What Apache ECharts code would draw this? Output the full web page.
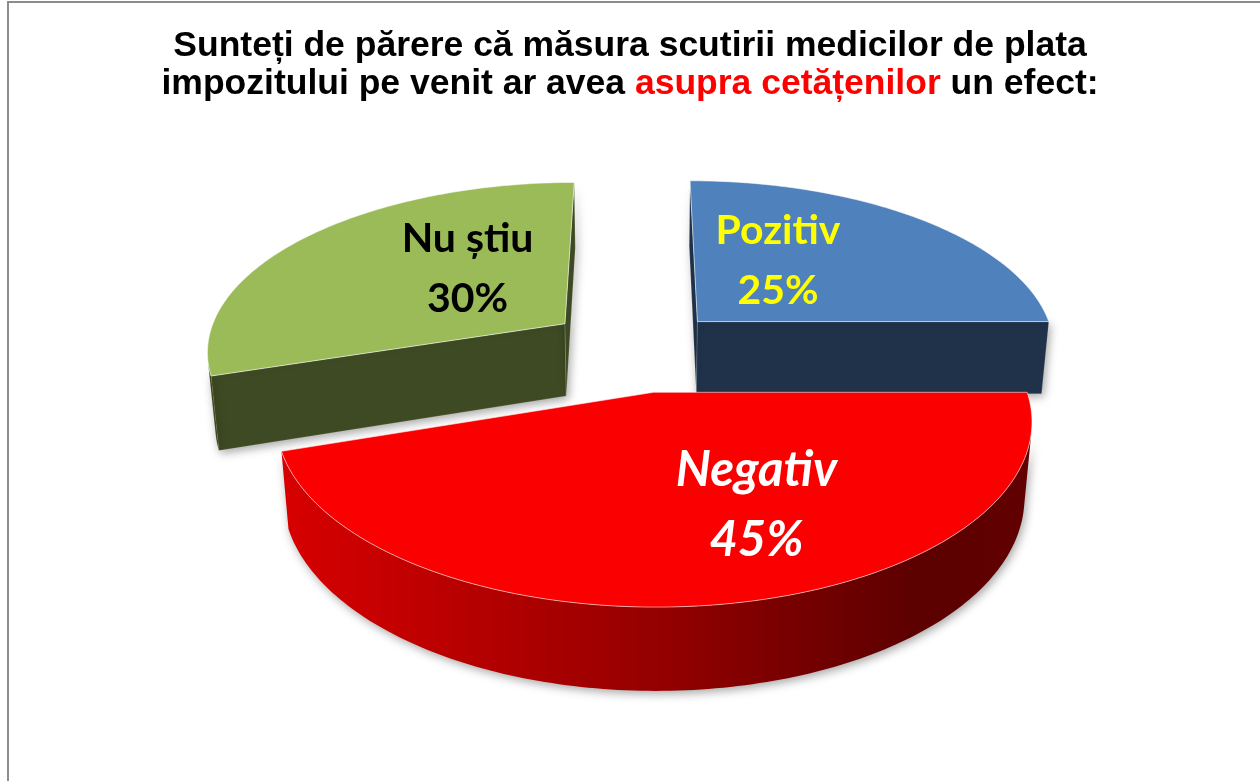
<!DOCTYPE html>
<html>
<head>
<meta charset="utf-8">
<script src="https://cdn.jsdelivr.net/npm/echarts@6/dist/echarts.min.js"></script>
<style>
  html, body { margin: 0; background: #fff; }
  #chart { width: 1260px; height: 781px; }
</style>
</head>
<body>
<div id="chart"></div>
<script>
// data
const categories = ['Pozitiv', 'Negativ', 'Nu știu']
const shares = [25, 45, 30]

// look of each slice
const topColors = ['#4f81bd', '#fa0000', '#9bbb59']
const sideColors = ['#1f3249', '#a00000', '#3e4a23']
const labelColors = ['#ffff00', '#ffffff', '#000000']
const explode = [0.235, 0.25, 0.26]
// label spot inside each slice: [fraction of its angle, fraction of radius]
const labelSpot = [[0.36, 0.47], [0.41, 0.62], [0.63, 0.47]]

// simple perspective camera for the 3d pie
const view = { cx: 639, cy: 349, k: 360, dist: 6, tilt: 28 * Math.PI / 180, height: 0.235 }
const sn = Math.sin(view.tilt)
const cs = Math.cos(view.tilt)
const cam = [0, view.dist * sn, view.dist * cs]

function project(X, Y, Z) {
  const f = view.dist / (view.dist - (Y * sn + Z * cs))
  return [view.cx + view.k * X * f, view.cy + view.k * (Z * sn - Y * cs) * f]
}

const total = shares.reduce((a, b) => a + b, 0)
let acc = 0
const slices = shares.map((v, i) => {
  const a0 = acc / total * 2 * Math.PI
  acc += v
  const a1 = acc / total * 2 * Math.PI
  const mid = (a0 + a1) / 2
  return { a0, a1, ox: explode[i] * Math.sin(mid), oz: -explode[i] * Math.cos(mid) }
})

// draw far slices first
const drawOrder = slices.map((s, i) => i).sort((a, b) => slices[a].oz - slices[b].oz)

const shadow = { shadowBlur: 10, shadowColor: 'rgba(0,0,0,0.35)', shadowOffsetX: 2, shadowOffsetY: 3 }

function renderSlice(params, api) {
  const i = api.value(0)
  const s = slices[i]
  const H = view.height
  const steps = Math.max(2, Math.ceil((s.a1 - s.a0) / (Math.PI / 180)))
  const rim = []
  for (let j = 0; j <= steps; j++) rim.push(s.a0 + (s.a1 - s.a0) * j / steps)
  const rx = a => s.ox + Math.sin(a)
  const rz = a => s.oz - Math.cos(a)
  const children = []

  // radial walls
  ;[[s.a0, -1], [s.a1, 1]].forEach(([a, sign]) => {
    const na = a + sign * Math.PI / 2
    const facing = Math.sin(na) * (cam[0] - s.ox) - Math.cos(na) * (cam[2] - s.oz)
    if (facing > 0) {
      children.push({
        type: 'polygon',
        shape: { points: [project(s.ox, 0, s.oz), project(rx(a), 0, rz(a)), project(rx(a), -H, rz(a)), project(s.ox, -H, s.oz)] },
        style: Object.assign({ fill: sideColors[i], stroke: 'rgba(255,255,255,0.25)', lineWidth: 0.6 }, shadow)
      })
    }
  })

  // outer wall, only the part turned to the camera
  const seen = rim.filter(a => {
    const n = [Math.sin(a), -Math.cos(a)]
    return n[0] * (cam[0] - rx(a)) + n[1] * (cam[2] - rz(a)) > 0
  })
  if (seen.length > 1) {
    const pts = seen.map(a => project(rx(a), 0, rz(a)))
      .concat(seen.slice().reverse().map(a => project(rx(a), -H, rz(a))))
    const fill = i === 1 ? {
      type: 'linear', x: 0, y: 0, x2: 1, y2: 0,
      colorStops: [
        { offset: 0, color: '#d80000' },
        { offset: 0.5, color: '#950000' },
        { offset: 0.85, color: '#5c0000' },
        { offset: 1, color: '#620000' }
      ]
    } : sideColors[i]
    children.push({
      type: 'polygon',
      shape: { points: pts },
      style: Object.assign({ fill: fill }, shadow)
    })
  }

  // top face
  children.push({
    type: 'polygon',
    shape: { points: [project(s.ox, 0, s.oz)].concat(rim.map(a => project(rx(a), 0, rz(a)))) },
    style: { fill: topColors[i], stroke: 'rgba(255,255,255,0.55)', lineWidth: 1 }
  })

  // label
  const la = s.a0 + (s.a1 - s.a0) * labelSpot[i][0]
  const lr = labelSpot[i][1]
  const p = project(s.ox + lr * Math.sin(la), 0, s.oz - lr * Math.cos(la))
  const big = i === 1
  children.push({
    type: 'text',
    z2: 100,
    style: {
      x: p[0], y: p[1],
      text: categories[i] + '\n' + shares[i] + '%',
      align: 'center', verticalAlign: 'middle',
      fontFamily: 'Lato', fontWeight: 'bold', fontStyle: big ? 'italic' : 'normal',
      fontSize: big ? 49 : 41, lineHeight: big ? 70 : 60,
      fill: labelColors[i]
    }
  })

  return { type: 'group', children: children }
}

const chart = echarts.init(document.getElementById('chart'))
chart.setOption({
  backgroundColor: '#fff',
  animation: false,
  title: {
    left: 'center',
    top: 22,
    text: '{k|Sunteți de părere că măsura scutirii medicilor de plata}\n{k|impozitului pe venit ar avea }{r|asupra cetățenilor}{k| un efect:}',
    textStyle: {
      rich: {
        k: { fontFamily: 'Liberation Sans', fontWeight: 'bold', fontSize: 35.5, lineHeight: 38, color: '#000' },
        r: { fontFamily: 'Liberation Sans', fontWeight: 'bold', fontSize: 35.5, lineHeight: 38, color: '#ff0000' }
      }
    }
  },
  graphic: [{
    type: 'rect',
    silent: true,
    shape: { x: 8, y: 2, width: 1400, height: 900 },
    style: { fill: 'none', stroke: '#8c8c8c', lineWidth: 2 }
  }],
  series: [{
    type: 'custom',
    coordinateSystem: 'none',
    renderItem: renderSlice,
    data: drawOrder.map(i => [i, shares[i]])
  }]
})
</script>
</body>
</html>
